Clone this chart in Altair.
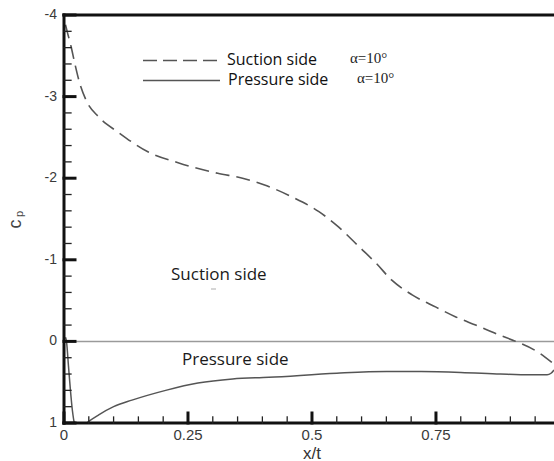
import altair as alt
import pandas as pd

# ---- data ----
suction_x = [0.003, 0.008, 0.014, 0.022, 0.03, 0.045, 0.07, 0.11, 0.17, 0.23, 0.31, 0.36,
             0.403, 0.46, 0.514, 0.554, 0.595, 0.629, 0.661, 0.702, 0.75, 0.79, 0.83, 0.877,
             0.911, 0.958, 0.984]
suction_cp = [-3.88, -3.76, -3.62, -3.40, -3.20, -2.95, -2.75, -2.56, -2.32, -2.19, -2.06, -2.00,
              -1.92, -1.77, -1.59, -1.40, -1.16, -0.96, -0.75, -0.57, -0.42, -0.30, -0.20, -0.08,
              0.0, 0.14, 0.26]

pressure_x = [0.003, 0.005, 0.009, 0.013, 0.017, 0.021, 0.027, 0.036, 0.044, 0.05, 0.07, 0.10,
              0.137, 0.205, 0.27, 0.34, 0.413, 0.55, 0.65, 0.72, 0.80, 0.88, 0.94, 0.974, 0.982, 0.988]
pressure_cp = [-0.05, 0.0, 0.3, 0.6, 0.85, 1.0, 1.05, 1.05, 1.01, 0.98, 0.9, 0.8,
               0.72, 0.6, 0.51, 0.46, 0.44, 0.39, 0.37, 0.37, 0.38, 0.40, 0.41, 0.41, 0.39, 0.35]

x_major = [0, 0.25, 0.5, 0.75]
x_labels = ["0", "0.25", "0.5", "0.75"]
x_minor = [0.05, 0.1, 0.15, 0.2, 0.3, 0.35, 0.4, 0.45, 0.55, 0.6, 0.65, 0.7, 0.8, 0.85, 0.9, 0.95]
y_major = [-4, -3, -2, -1, 0, 1]
y_labels = ["-4", "-3", "-2", "-1", "0", "1"]
y_minor = [round(-4 + 0.2 * i, 1) for i in range(26) if i % 5 != 0]

legend_labels = ["Suction side", "Pressure side"]
alpha_label = "α=10°"
region_labels = ["Suction side", "Pressure side"]

W, H = 490, 408
XMAX = 0.988
xs = alt.Scale(domain=[0, XMAX], nice=False, zero=False)
ys = alt.Scale(domain=[-4, 1], reverse=True, nice=False, zero=False)
PX_X = XMAX / W      # data units per pixel (x)
PX_Y = 5.0 / H       # data units per pixel (y)

LINE = "#555555"


def X(f):
    return alt.X(f, scale=xs, axis=None)


def Y(f):
    return alt.Y(f, scale=ys, axis=None)


# segments (two points each, grouped by id) for the frame and inward ticks
def segments(pairs, prefix):
    rows = []
    for i, ((x1, y1), (x2, y2)) in enumerate(pairs):
        rows.append({"id": f"{prefix}{i}", "o": 0, "x": x1, "cp": y1})
        rows.append({"id": f"{prefix}{i}", "o": 1, "x": x2, "cp": y2})
    return pd.DataFrame(rows)


frame_pairs = [((0, -4), (XMAX, -4)), ((0, 1), (XMAX, 1)), ((0, -4), (0, 1))]
major_pairs = ([((0, v), (11 * PX_X, v)) for v in y_major]
               + [((u, 1), (u, 1 - 10 * PX_Y)) for u in x_major])
minor_pairs = ([((0, v), (7 * PX_X, v)) for v in y_minor]
               + [((u, 1), (u, 1 - 6 * PX_Y)) for u in x_minor])


def seg_layer(df, width, color):
    return alt.Chart(df).mark_line(color=color, strokeWidth=width, strokeCap="square").encode(
        x=X("x:Q"), y=Y("cp:Q"), detail="id:N", order="o:Q")


frame = seg_layer(segments(frame_pairs, "f"), 3, "#111111")
ticks_major = seg_layer(segments(major_pairs, "M"), 3, "#111111")
ticks_minor = seg_layer(segments(minor_pairs, "m"), 1.3, "#222222")

zero = alt.Chart(pd.DataFrame({"x": [0, XMAX], "cp": [0, 0]})).mark_line(
    color="#9a9a9a", strokeWidth=1.5).encode(x=X("x:Q"), y=Y("cp:Q"))

suc = alt.Chart(pd.DataFrame({"x": suction_x, "cp": suction_cp})).mark_line(
    color=LINE, strokeWidth=1.6, strokeDash=[14, 7], interpolate="monotone", clip=True
).encode(x=X("x:Q"), y=Y("cp:Q"))

press = alt.Chart(pd.DataFrame({"x": pressure_x, "cp": pressure_cp})).mark_line(
    color=LINE, strokeWidth=1.5, interpolate="monotone", clip=True
).encode(x=X("x:Q"), y=Y("cp:Q"))

# tick labels and axis titles
ylab = alt.Chart(pd.DataFrame({"lv": y_major, "t": y_labels})).mark_text(
    font="Liberation Sans", fontSize=14, color="#3a3a3a", align="right", baseline="middle").encode(
    y=Y("lv:Q"), x=alt.value(-7), text="t:N")
xlab = alt.Chart(pd.DataFrame({"lu": x_major, "t": x_labels})).mark_text(
    font="Liberation Sans", fontSize=15, color="#3a3a3a", align="center", baseline="middle").encode(
    x=X("lu:Q"), y=alt.value(H + 12), text="t:N")
xtitle = alt.Chart(pd.DataFrame({"t": ["x/t"]})).mark_text(
    font="Liberation Sans", fontSize=17, color="#333", align="center", baseline="middle").encode(
    x=alt.value(248), y=alt.value(H + 31), text="t:N")
c_lab = alt.Chart(pd.DataFrame({"t": ["c"]})).mark_text(
    font="Liberation Sans", fontSize=18, color="#444", angle=270, align="center",
    baseline="middle").encode(text="t:N", x=alt.value(-48), y=alt.value(209))
p_lab = alt.Chart(pd.DataFrame({"t": ["p"]})).mark_text(
    font="Liberation Sans", fontSize=11, color="#444", angle=270, align="center",
    baseline="middle").encode(text="t:N", x=alt.value(-44), y=alt.value(199))

# legend
leg_dash = alt.Chart(pd.DataFrame({"a": [0]})).mark_rule(
    color=LINE, strokeWidth=1.5, strokeDash=[14, 6]).encode(
    x=alt.value(79), x2=alt.value(156), y=alt.value(45.5))
leg_solid = alt.Chart(pd.DataFrame({"a": [1]})).mark_rule(
    color=LINE, strokeWidth=1.5).encode(
    x=alt.value(79), x2=alt.value(156), y=alt.value(65.5))
leg_t1 = alt.Chart(pd.DataFrame({"t": [legend_labels[0]]})).mark_text(
    font="Open Sans", fontSize=16, color="#111", align="left", baseline="alphabetic").encode(
    text="t:N", x=alt.value(163), y=alt.value(50))
leg_t2 = alt.Chart(pd.DataFrame({"t": [legend_labels[1]]})).mark_text(
    font="Open Sans", fontSize=16, color="#111", align="left", baseline="alphabetic").encode(
    text="t:N", x=alt.value(164), y=alt.value(70))
al1 = alt.Chart(pd.DataFrame({"t": [alpha_label], "k": [1]})).mark_text(
    font="Liberation Serif", fontSize=15, color="#222", align="left", baseline="alphabetic").encode(
    text="t:N", x=alt.value(286), y=alt.value(48))
al2 = alt.Chart(pd.DataFrame({"t": [alpha_label], "k": [2]})).mark_text(
    font="Liberation Serif", fontSize=15, color="#222", align="left", baseline="alphabetic").encode(
    text="t:N", x=alt.value(293), y=alt.value(68))

# region labels
reg1 = alt.Chart(pd.DataFrame({"t": [region_labels[0]], "k": [1]})).mark_text(
    font="Open Sans", fontSize=17, color="#1a1a1a", align="left", baseline="alphabetic").encode(
    text="t:N", x=alt.value(107), y=alt.value(265))
reg2 = alt.Chart(pd.DataFrame({"t": [region_labels[1]], "k": [2]})).mark_text(
    font="Open Sans", fontSize=17, color="#1a1a1a", align="left", baseline="alphabetic").encode(
    text="t:N", x=alt.value(118), y=alt.value(350))
speck = alt.Chart(pd.DataFrame({"a": [2]})).mark_rule(color="#bbbbbb", strokeWidth=1.2).encode(
    x=alt.value(147), x2=alt.value(152), y=alt.value(274))

chart = alt.layer(
    zero, suc, press, frame, ticks_major, ticks_minor,
    ylab, xlab, xtitle, c_lab, p_lab,
    leg_dash, leg_solid, leg_t1, leg_t2, al1, al2, reg1, reg2, speck
).properties(
    width=W, height=H, autosize="none",
    padding={"left": 64, "top": 15, "right": 0, "bottom": 38},
    background="white",
).configure_view(stroke=None)

chart.save("out.html", embed_options={"renderer": "svg", "actions": False})
